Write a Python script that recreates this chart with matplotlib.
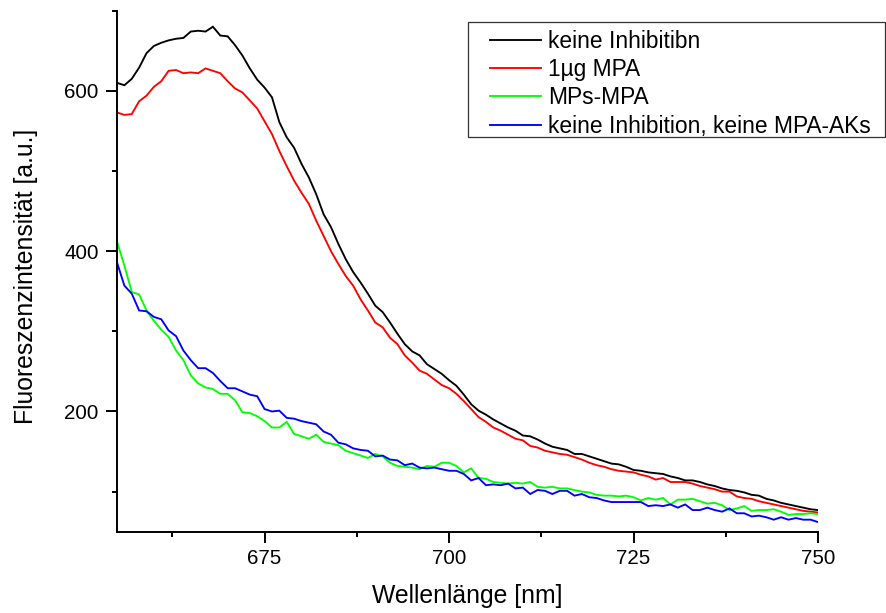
import numpy as np
import matplotlib
matplotlib.use("Agg")
import matplotlib.pyplot as plt
from matplotlib.ticker import FixedLocator
from matplotlib.patches import Rectangle

plt.rcParams['font.family'] = ['Liberation Sans', 'DejaVu Sans']

# Wavelength grid (nm), 1 nm steps
wavelength = np.arange(655, 751)

keine_inhibition = [
    610, 607, 615, 629, 647, 656, 660, 663, 665, 666,
    674, 675, 674, 680, 669, 668, 657, 644, 628, 614,
    604, 592, 561, 542, 529, 509, 492, 471, 446, 430,
    409, 390, 374, 361, 347, 332, 324, 311, 297, 284,
    275, 270, 259, 253, 247, 239, 232, 221, 209, 201,
    196, 190, 185, 180, 176, 170, 169, 165, 160, 156,
    154, 152, 147, 147, 144, 141, 138, 135, 134, 131,
    127, 126, 124, 123, 122, 119, 117, 114, 114, 112,
    109, 107, 104, 102, 101, 99, 96, 95, 91, 89,
    86, 84, 82, 80, 78, 77,
]

mpa_1ug = [
    573, 570, 571, 587, 594, 605, 612, 625, 626, 622,
    623, 622, 628, 625, 622, 612, 603, 598, 588, 578,
    562, 546, 525, 506, 488, 473, 459, 438, 419, 400,
    384, 369, 357, 340, 326, 311, 305, 292, 284, 270,
    261, 251, 247, 240, 233, 229, 222, 213, 203, 193,
    187, 180, 176, 171, 166, 164, 157, 155, 151, 149,
    147, 146, 143, 140, 136, 133, 131, 128, 126, 125,
    124, 121, 119, 115, 117, 112, 112, 112, 110, 107,
    105, 103, 100, 100, 94, 92, 91, 88, 86, 84,
    82, 80, 78, 76, 75, 74,
]

mps_mpa = [
    412, 382, 349, 346, 326, 313, 302, 293, 276, 264,
    245, 235, 230, 228, 222, 222, 214, 199, 198, 194,
    188, 180, 180, 187, 172, 169, 166, 171, 162, 160,
    158, 151, 148, 145, 142, 147, 144, 136, 132, 131,
    130, 128, 132, 131, 136, 136, 132, 124, 129, 117,
    116, 112, 111, 110, 111, 110, 112, 106, 105, 106,
    104, 104, 102, 100, 99, 96, 95, 95, 94, 95,
    93, 89, 92, 90, 92, 84, 90, 90, 91, 88,
    85, 86, 83, 77, 79, 82, 76, 77, 77, 78,
    75, 71, 72, 72, 73, 72,
]

keine_inhibition_keine_ak = [
    386, 357, 347, 326, 325, 318, 315, 301, 294, 276,
    264, 254, 254, 248, 238, 229, 229, 225, 221, 219,
    203, 200, 201, 192, 191, 188, 186, 184, 175, 171,
    161, 159, 154, 152, 151, 144, 145, 140, 139, 133,
    135, 130, 129, 130, 128, 126, 126, 122, 114, 117,
    108, 109, 108, 110, 104, 105, 97, 102, 101, 97,
    101, 101, 95, 97, 93, 92, 89, 87, 87, 87,
    87, 87, 82, 83, 82, 84, 80, 84, 77, 77,
    80, 77, 75, 79, 73, 73, 69, 70, 68, 65,
    68, 65, 67, 65, 65, 62,
]

labels = [
    "keine Inhibitibn",
    "1µg MPA",
    "MPs-MPA",
    "keine Inhibition, keine MPA-AKs",
]
colors = ["#000000", "#ff0000", "#00ff00", "#0000ff"]
series = [keine_inhibition, mpa_1ug, mps_mpa, keine_inhibition_keine_ak]

x_major = [675, 700, 725, 750]
x_minor = [662.5, 687.5, 712.5, 737.5]
y_major = [200, 400, 600]
y_minor = [100, 300, 500, 700]

W, H = 887, 613
fig = plt.figure(figsize=(W / 100, H / 100), dpi=100)
ax = fig.add_axes([117 / W, 1 - 531.7 / H, (818 - 117) / W, (531.7 - 10.7) / H])

handles = []
for ys, c, lab in zip(series, colors, labels):
    h, = ax.plot(wavelength, ys, color=c, lw=1.35, label=lab, solid_joinstyle='miter')
    handles.append(h)

ax.set_xlim(655, 750)
ax.set_ylim(50, 700)

for side in ("top", "right"):
    ax.spines[side].set_visible(False)
for side in ("left", "bottom"):
    ax.spines[side].set_linewidth(1.4)

ax.xaxis.set_major_locator(FixedLocator(x_major))
ax.xaxis.set_minor_locator(FixedLocator(x_minor))
ax.yaxis.set_major_locator(FixedLocator(y_major))
ax.yaxis.set_minor_locator(FixedLocator(y_minor))
ax.tick_params(which="major", direction="out", length=7.8, width=1.4, labelsize=14.8)
ax.tick_params(axis="x", which="major", pad=4.5)
ax.tick_params(axis="y", which="major", pad=5.5)
ax.tick_params(which="minor", direction="out", length=3.6, width=1.4)

ax.set_xlabel("Wellenlänge [nm]", fontsize=17.8, labelpad=12)
ax.set_ylabel("Fluoreszenzintensität [a.u.]", fontsize=17.8)
ax.yaxis.set_label_coords(-0.1127, 0.49)

leg = fig.legend(handles=handles, labels=labels, loc="upper left",
                 bbox_to_anchor=(490 / W, 1 - 29.5 / H), frameon=False,
                 fontsize=16.4, handlelength=2.24, handletextpad=0.32,
                 labelspacing=0.235, borderpad=0, borderaxespad=0)
for lh in leg.get_lines():
    lh.set_linewidth(1.35)

fig.add_artist(Rectangle((468.3 / W, 1 - 137.3 / H), (885.5 - 468.3) / W, (137.3 - 21.7) / H,
                         transform=fig.transFigure, fill=False, edgecolor="#333333", lw=0.9))

fig.savefig("out.png", dpi=100)
